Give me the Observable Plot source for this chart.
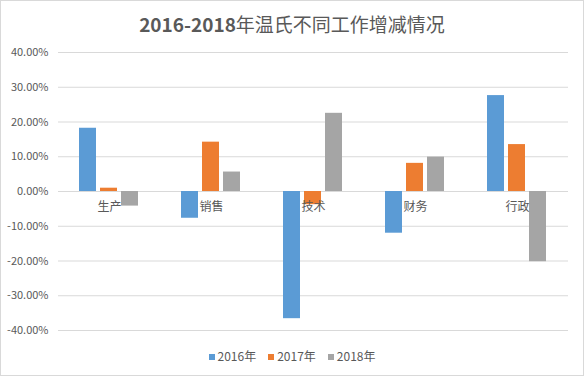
<!DOCTYPE html>
<html>
<head>
<meta charset="utf-8">
<script src="https://cdn.jsdelivr.net/npm/d3@7"></script>
<script src="https://cdn.jsdelivr.net/npm/@observablehq/plot@0.6"></script>
<style>
  html, body { margin: 0; padding: 0; background: #fff; }
  #wrap { position: relative; width: 584px; height: 376px; background: #fff; box-shadow: inset 0 0 0 1px #d9d9d9; font-family: "Noto Sans CJK SC", "Noto Sans", sans-serif; color: #595959; overflow: hidden; }
  #title { position: absolute; left: 0; top: 12px; width: 584px; height: 24px; line-height: 24px; text-align: center; font-size: 19px; color: #595959; }
  #title b { font-weight: 700; }
  #plot { position: absolute; left: 0; top: 40px; }
  #legend { position: absolute; left: 0; top: 346px; width: 584px; height: 20px; line-height: 20px; text-align: center; font-size: 12px; color: #595959; }
  #legend span.item { display: inline-block; margin: 0 6px; }
  #legend span.sw { display: inline-block; width: 6px; height: 6px; margin-right: 3px; vertical-align: middle; position: relative; top: -1px; }
</style>
</head>
<body>
<div id="wrap">
  <div id="title"><b>2016-2018</b>年温氏不同工作增减情况</div>
  <div id="plot"></div>
  <div id="legend"></div>
</div>
<script>
const categories = ["生产", "销售", "技术", "财务", "行政"];
const years = ["2016年", "2017年", "2018年"];
const values2016 = [0.182, -0.077, -0.366, -0.120, 0.276];
const values2017 = [0.0095, 0.142, -0.038, 0.081, 0.135];
const values2018 = [-0.042, 0.056, 0.225, 0.099, -0.202];
const colors = ["#5B9BD5", "#ED7D31", "#A5A5A5"];
const yTicks = [-0.4, -0.3, -0.2, -0.1, 0, 0.1, 0.2, 0.3, 0.4];

const series = [values2016, values2017, values2018];
const data = [];
categories.forEach((c, i) => {
  years.forEach((yr, j) => data.push({cat: c, year: yr, value: series[j][i]}));
});

const fmt = d => (d * 100).toFixed(2) + "%";

const chart = Plot.plot({
  width: 584,
  height: 300,
  marginLeft: 58,
  marginRight: 16,
  marginTop: 12,
  marginBottom: 10,
  style: {fontFamily: '"Noto Sans CJK SC", "Noto Sans", sans-serif', fontSize: "11px", color: "#595959", background: "transparent"},
  fx: {domain: categories, padding: 0, axis: null, label: null},
  x: {domain: years, axis: null, paddingInner: 0.18, paddingOuter: 0.91},
  y: {domain: [-0.4, 0.4], ticks: yTicks, tickFormat: fmt, tickSize: 0, tickPadding: 10, label: null},
  color: {domain: years, range: colors},
  marks: [
    Plot.ruleY(yTicks, {stroke: "#d9d9d9", strokeWidth: 1}),
    Plot.barY(data, {fx: "cat", x: "year", y: "value", fill: "year"}),
    Plot.text(categories, {fx: d => d, text: d => d, y: 0, dy: 16, fontSize: 12, fill: "#595959"})
  ]
});
document.getElementById("plot").appendChild(chart);

const legend = document.getElementById("legend");
years.forEach((yr, j) => {
  const item = document.createElement("span");
  item.className = "item";
  const sw = document.createElement("span");
  sw.className = "sw";
  sw.style.background = colors[j];
  item.appendChild(sw);
  item.appendChild(document.createTextNode(yr));
  legend.appendChild(item);
});
</script>
</body>
</html>
